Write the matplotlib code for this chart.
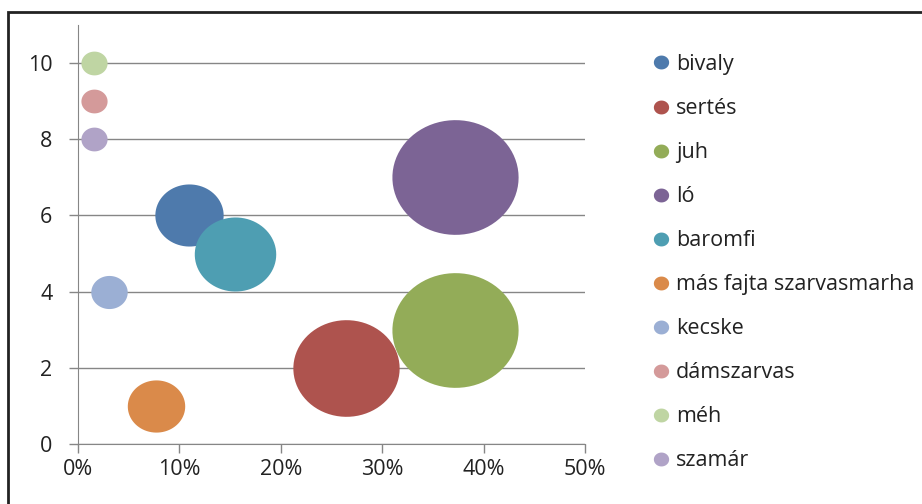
import matplotlib.pyplot as plt
import numpy as np
from matplotlib.path import Path
from matplotlib.lines import Line2D
from matplotlib.patches import Rectangle
from matplotlib.ticker import FuncFormatter, MultipleLocator

# ====================== DATA ======================
labels = ['bivaly', 'sertés', 'juh', 'ló', 'baromfi', 'más fajta szarvasmarha',
          'kecske', 'dámszarvas', 'méh', 'szamár']
share = [10.9, 26.4, 37.2, 37.2, 15.5, 7.7, 3.1, 1.6, 1.6, 1.6]   # x, %
rank = [6, 2, 3, 7, 5, 1, 4, 9, 10, 8]                            # y
bubble = [10.9, 26.4, 37.2, 37.2, 15.5, 7.7, 3.1, 1.6, 1.6, 1.6]  # bubble size
colors = ['#4E7AAC', '#AE534E', '#93AC58', '#7C6495', '#4E9EB2', '#DA8A4A',
          '#9BAFD4', '#D49A9A', '#BFD5A3', '#B0A3C7']

plt.rcParams['font.family'] = ['Open Sans', 'DejaVu Sans']

# slightly wide ellipse marker (the original is stretched horizontally)
t = np.linspace(0, 2 * np.pi, 80)
ellipse = Path(np.column_stack([1.1 * np.cos(t), np.sin(t)]))

fig = plt.figure(figsize=(9.22, 5.04), dpi=100)
ax = fig.add_axes([78 / 922, 1 - 444 / 504, (585 - 78) / 922, (444 - 25) / 504])

scale = 222
for i in range(len(labels)):
    ax.scatter(share[i], rank[i], s=bubble[i] * scale, color=colors[i],
               marker=ellipse, linewidths=0, zorder=3)

ax.set_xlim(0, 50)
ax.set_ylim(0, 11)
ax.xaxis.set_major_locator(MultipleLocator(10))
ax.yaxis.set_major_locator(MultipleLocator(2))
ax.xaxis.set_major_formatter(FuncFormatter(lambda v, p: f'{v:.0f}%'))
ax.grid(axis='y', color='#868686', linewidth=1)
ax.set_axisbelow(True)
for side in ['top', 'right']:
    ax.spines[side].set_visible(False)
for side in ['left', 'bottom']:
    ax.spines[side].set_color('#868686')
ax.tick_params(axis='both', colors='#868686', length=6.5, width=1,
               labelcolor='#222222', labelsize=15.5)
ax.tick_params(axis='x', pad=4)
ax.tick_params(axis='y', pad=12)

handles = [Line2D([], [], linestyle='none', marker=ellipse, markersize=11,
                  markerfacecolor=c, markeredgewidth=0) for c in colors]
fig.legend(handles, labels, loc='upper left', bbox_to_anchor=(652 / 922, 1 - 54 / 504),
           frameon=False, fontsize=15.5, labelspacing=1.07, handlelength=0.8,
           handletextpad=0.3, borderpad=0, borderaxespad=0, labelcolor='#222222')

# outer chart border
fig.patches.append(Rectangle((8 / 922, -0.1), 1.2, 1.1 - 12 / 504, transform=fig.transFigure,
                             fill=False, edgecolor='#222222', linewidth=2))

fig.savefig('out.png', dpi=100)
